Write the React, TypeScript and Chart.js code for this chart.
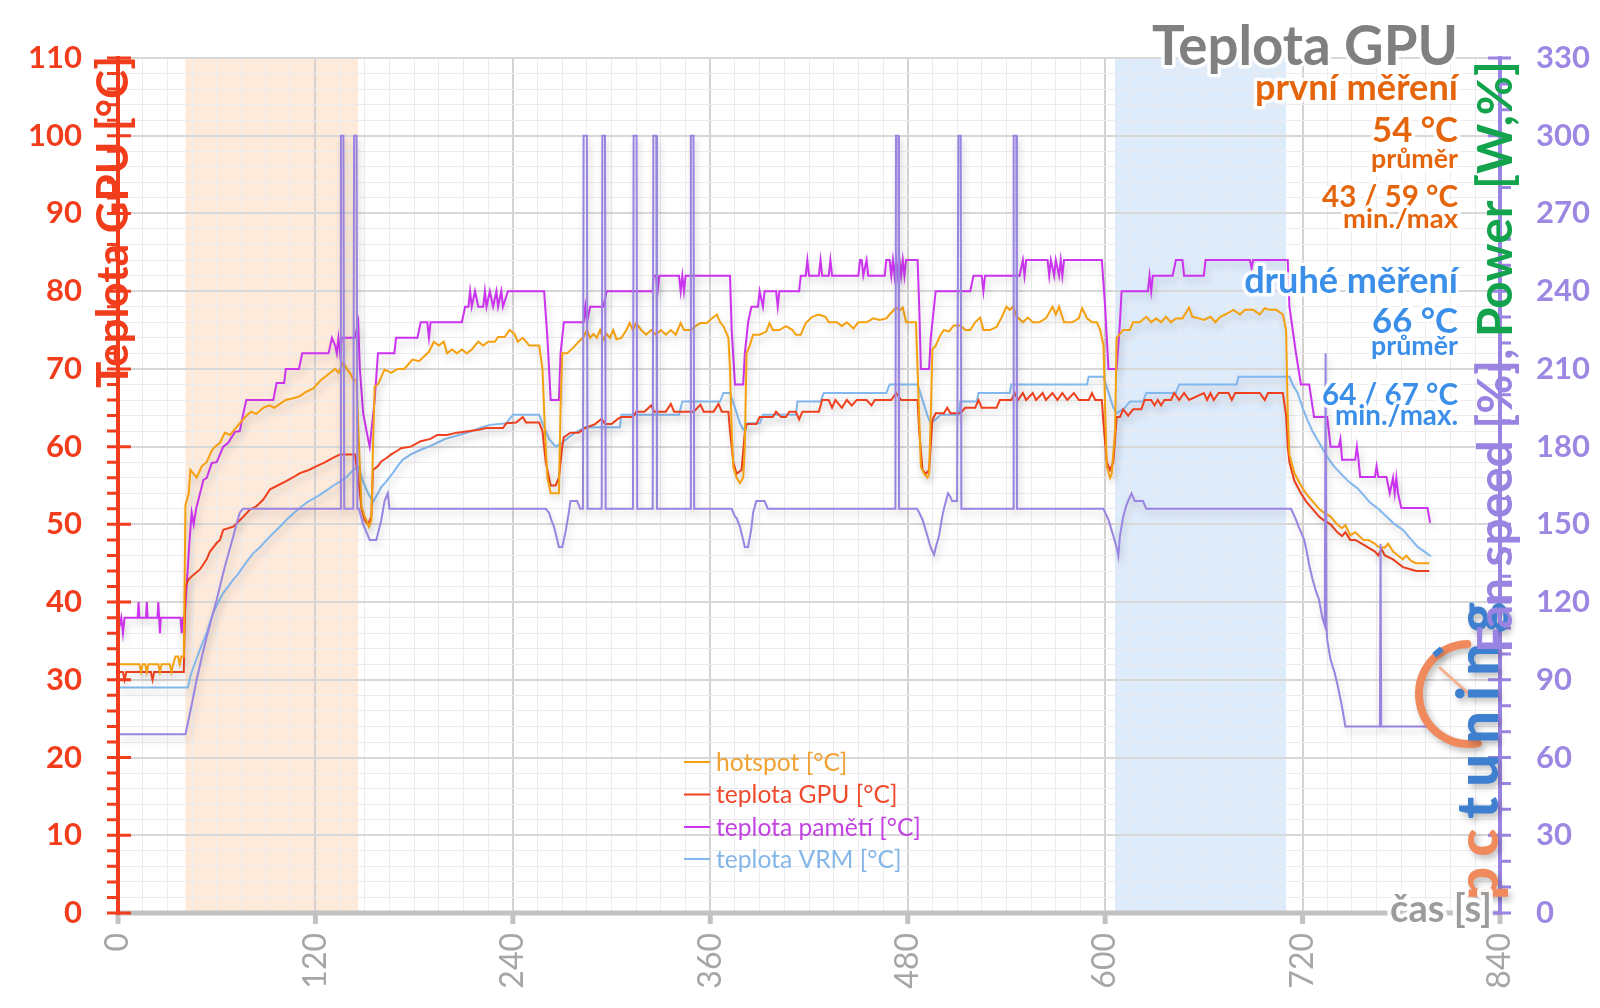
import { useEffect, useRef } from 'react';
import { Chart, registerables } from 'chart.js';

Chart.register(...registerables);

const FONT = 'Lato, "Open Sans", sans-serif';

// ---------------- data ----------------
const chartTitle = 'Teplota GPU';
const xAxisTitle = 'čas [s]';
const leftAxisTitle = 'Teplota GPU [°C]';
const rightAxisTitleA = 'Fan speed [%], ';
const rightAxisTitleB = 'Power [W,%]';
const seriesNames = ['hotspot [°C]', 'teplota GPU [°C]', 'teplota pamětí [°C]', 'teplota VRM [°C]'];
const firstRun = ['první měření', '54 °C', 'průměr', '43 / 59 °C', 'min./max'];
const secondRun = ['druhé měření', '66 °C', 'průměr', '64 / 67 °C', 'min./max.'];
const logoParts = ['pc', 'tuning'];
const bandFirst = [41, 146];
const bandSecond = [606, 710];
const xMajorTicks = [0, 120, 240, 360, 480, 600, 720, 840];

const hotspot: number[][] = [
  [0, 32], [13, 32], [14, 31], [15, 32], [16.5, 32], [17.5, 31], [18.5, 32], [24.5, 32], [25.5, 31], [26.5, 32],
  [31.5, 32], [32.5, 31], [33.5, 32], [35, 33], [36.5, 33], [37.5, 32], [38.5, 33], [40, 33], [41, 52.5], [43, 54],
  [44, 57], [47.8, 56], [51, 57.5], [53.9, 58], [57, 59.5], [59, 60], [62, 60.5], [65, 61.8], [68, 61.5], [70, 62],
  [72, 62.5], [74, 63], [76, 63.5], [78.2, 64], [81, 64.5], [84, 64.2], [88.3, 65], [92, 65.3], [95, 65], [98.4, 65.5],
  [102, 66], [106, 66.2], [110.6, 66.5], [114, 67], [118.7, 67.5], [123, 68.5], [126, 69], [129, 69.5], [132, 70], [134, 69.5],
  [137, 70.8], [139, 70], [141, 69.5], [143, 68.6], [145, 68.5], [146.5, 60], [148, 52.3], [150, 51], [152.5, 49.7], [154, 50.5],
  [155, 60], [156, 67.7], [158, 68], [162, 69.9], [166, 69.5], [170, 70], [174, 70], [179, 71.2], [183, 71], [189, 72.2],
  [192, 73.5], [195, 73], [198, 73.5], [200, 72], [203, 72.5], [206, 72], [209, 72.5], [212, 72], [215, 72.5], [219, 73.5],
  [222, 73], [225, 73.5], [229, 73.5], [231, 74.1], [235, 74.1], [238, 75], [241, 74.5], [243, 73.5], [246, 74], [248, 73.5],
  [250, 73], [256, 73], [258, 70], [259.5, 62], [261, 56], [263, 54], [266, 54], [268, 54], [269, 65], [270, 72],
  [273, 72], [277, 72.8], [280, 73.5], [283, 74.1], [285, 75], [287, 74], [289, 74.5], [291, 74], [293, 75], [295, 73.8],
  [297, 74.5], [299, 74], [301, 75], [303, 73.8], [306, 74], [309, 75], [311, 75.9], [313, 75], [315, 75.9], [318, 75],
  [321, 74.4], [324, 75], [327, 74.4], [330, 75], [333, 74.4], [336, 75], [339, 74.4], [342, 75.9], [344, 75], [348, 75],
  [351, 75.5], [354, 75.9], [358, 75.9], [361, 76.5], [364, 77], [366, 76], [368, 75.5], [371, 74], [372, 70], [373, 62],
  [374, 57.4], [376, 56], [378, 55.3], [380, 56], [381, 60], [382, 72], [384, 73], [386, 74.4], [390, 74.4], [394, 74.8],
  [396, 75.9], [398, 75], [402, 75], [406, 75.5], [410, 75], [412, 74.4], [415, 74.4], [418, 75.9], [420, 76.3], [422, 76.7],
  [426, 77], [430, 76.7], [432, 76], [437, 76], [440, 75.5], [443, 76], [447, 75.2], [450, 76], [455, 76], [459, 76.5],
  [463, 76.3], [467, 76.5], [469, 77], [473, 77.9], [475, 77.5], [477, 77.9], [479, 76], [482, 76], [485, 76], [486, 70],
  [488, 57.4], [490, 56.5], [492, 56], [493, 56.5], [494, 64], [495, 72.5], [497, 73], [500, 74.4], [502, 75], [505, 74.8],
  [508, 75.6], [512, 75.6], [515, 75], [518, 75], [521, 76], [524, 76.6], [526, 75], [530, 75], [534, 75.4], [537, 76.6],
  [540, 78], [542, 77.6], [544, 78], [546, 76.8], [550, 76], [553, 76.6], [556, 76], [560, 76], [564, 76.5], [568, 78],
  [570, 77], [572, 78], [575, 76], [580, 76], [584, 76.5], [586, 77.8], [589, 76.5], [592, 76], [595, 76], [597, 75],
  [599, 73], [600, 65], [601, 57.4], [603, 56], [604, 56.5], [606, 62], [607, 74], [609, 74.5], [611, 75], [615, 75],
  [617, 76], [621, 76], [625, 76.7], [628, 76], [631, 76.5], [634, 76], [637, 76.7], [640, 76], [643, 76.5], [647, 76.5],
  [651, 77.9], [653, 76.7], [657, 76.5], [660, 76.3], [664, 76.7], [667, 76], [670, 76.7], [673, 77], [678, 77.6], [682, 77],
  [685, 77.6], [690, 77.6], [694, 77], [697, 77.8], [700, 77.6], [704, 77.6], [708, 77], [710, 75], [711, 64], [712, 59],
  [715, 56.6], [719, 55], [722, 54], [726, 53], [730, 52], [733, 51.5], [737, 51], [741, 50], [744, 49.5], [746, 49.9],
  [749, 48.6], [752, 49], [754, 48.6], [757, 48], [760, 48], [764, 47.5], [766, 47.1], [770, 47], [772, 47.5], [775, 46.5],
  [778, 46], [781, 45.5], [783, 46], [786, 45.3], [789, 45], [793, 45], [797, 45],
];

const gpuTemp: number[][] = [
  [0, 31], [3, 31], [4, 30], [5, 31], [20, 31], [21, 30], [22, 31], [40, 31], [41, 42], [42.8, 42.9],
  [45.8, 43.5], [49.8, 44.2], [53.9, 45.5], [55.9, 46.5], [60, 47.6], [62, 48], [64, 49.3], [70, 49.7], [73, 50.3], [76.2, 51],
  [80.2, 51.9], [84, 52.3], [88.3, 53.2], [92.4, 54.5], [97, 55], [102.5, 55.6], [106, 56], [110.6, 56.6], [116, 57], [120.8, 57.5],
  [126, 58], [130.9, 58.6], [135, 59], [144, 59], [146, 56], [148, 52],
  [150, 50.5], [152, 50], [154, 51], [155, 57], [158, 57.5], [160, 58.1], [163, 58.5], [166, 59], [170, 59.5], [172, 59.8],
  [178, 60], [184, 60.7], [190, 61], [194, 61.5], [200, 61.5], [206, 61.8], [214, 62], [220, 62.2], [224, 62.4], [234, 62.4],
  [236, 63], [242, 63.1], [246, 63.8], [248, 63.1], [256, 63.1], [258, 62], [260, 58], [263, 55], [266, 55], [268, 56],
  [270, 60], [271, 61.2], [275, 61.8], [280, 61.8], [284, 62.4], [290, 62.9], [294, 63.6], [296, 62.9], [300, 62.9], [304, 63.6],
  [306, 63.8], [313, 63.8], [315, 64.5], [320, 64.5], [324, 65.3], [326, 64.5], [333, 64.5], [336, 65.5], [338, 64.5], [350, 64.5],
  [354, 65.4], [356, 64.5], [362, 64.5], [365, 65.5], [367, 64.5], [371, 64.5], [372, 62], [374, 58], [376, 56.5], [379, 57],
  [381, 61.8], [382, 62.9], [388, 62.9], [390, 63.8], [398, 63.8], [400, 64.5], [403, 63.8], [406, 63.8], [408, 64.5], [412, 64.5],
  [414, 63.5], [416, 64.5], [426, 64.5], [428, 66], [432, 66], [434, 65], [436, 66], [440, 65], [443, 66], [446, 65.3],
  [449, 66], [455, 66], [458, 65.3], [460, 66], [470, 66], [473, 66.9], [476, 66], [486, 66], [487, 62], [489, 57],
  [491, 56.5], [493, 57], [495, 63.4], [497, 64.3], [502, 64.3], [504, 65], [506, 64.3], [512, 64.3], [515, 65], [521, 65],
  [523, 66], [525, 65], [534, 65], [536, 66], [543, 66], [545, 66.9], [547, 66], [550, 66.9], [552, 66], [556, 66.9],
  [558, 66], [562, 66.9], [564, 66], [568, 66.9], [571, 66], [574, 66.9], [577, 66], [581, 66.9], [584, 66], [590, 66],
  [592, 66.9], [594, 66], [598, 66], [599, 63], [601, 58], [603, 57], [605, 58], [607, 63.8], [609, 63.8], [611, 64.8],
  [614, 64], [617, 64.8], [622, 64.8], [624, 66], [628, 66], [630, 65.3], [632, 66], [634, 65.3], [636, 66], [640, 66],
  [642, 66.9], [645, 66], [648, 66.9], [651, 66], [660, 66.9], [662, 66], [664, 66.9], [666, 66], [669, 66.9], [675, 66.9],
  [677, 66], [679, 66.9], [694, 66.9], [697, 66], [699, 66.9], [708, 66.9], [710, 64], [711, 60], [712, 58], [715, 55.6],
  [719, 54], [722, 53], [726, 52], [730, 51], [733, 50.5], [737, 50], [741, 49], [744, 48.5], [746, 49], [749, 48],
  [752, 48], [757, 47.4], [760, 47], [764, 46.5], [766, 46], [768, 46.8], [770, 46], [775, 45.5], [778, 45], [781, 44.5],
  [786, 44.2], [789, 44], [797, 44],
];

const memTemp: number[][] = [
  [0, 36], [2, 38], [3, 36], [4, 38], [12, 38], [12.5, 40], [13, 38], [17, 38], [17.5, 40], [18, 38],
  [24, 38], [24.5, 40], [25, 38], [25.5, 36], [26, 38], [38, 38], [38.7, 36], [39.5, 38], [40.5, 38], [42, 43],
  [43.5, 48], [44.8, 51.5], [46, 50], [47.5, 52], [51.9, 55.7], [54, 56], [57, 57.9], [60, 58], [64, 60], [67, 60.5],
  [71.1, 61.9], [74, 62], [76.2, 64.3], [78, 66], [94.4, 66], [96.4, 68.2], [101, 68.2], [102, 70], [110, 70], [112, 72],
  [128, 72], [130, 74], [132, 73], [133, 72], [134, 74], [135, 72], [136, 74], [144, 74], [146, 76], [147, 70],
  [149, 64.3], [152, 61], [153, 60], [156, 66], [158, 72], [168, 72], [169, 74], [182, 74], [184, 76], [188, 76],
  [189, 74], [190, 76], [209, 76], [211, 78], [213, 78], [214, 80], [215, 78], [217, 80], [219, 78], [222, 78],
  [223, 80], [224, 78], [226, 80], [228, 78], [230, 80], [231, 78], [233, 80], [234, 78], [237, 80], [259, 80],
  [261, 74], [263, 66], [268, 66], [269, 72], [271, 76], [283, 76], [284, 78], [285, 76], [287, 78], [295, 78],
  [297, 80], [325, 80], [325.5, 82], [327, 82], [328, 80], [329, 82], [341, 82], [342, 80], [343, 82], [344, 80],
  [345, 82], [372, 82], [373, 75], [375, 68], [380, 68], [381, 72], [383, 76], [385, 78], [389, 78], [390, 80],
  [392, 78], [393, 80], [400, 80], [401, 78], [402, 80], [414, 80], [415, 82], [418, 82], [419, 84], [420, 82],
  [426, 82], [427, 84], [428, 82], [432, 82], [433, 84], [434, 82], [450, 82], [451, 84], [452, 84], [453, 82],
  [455, 84], [456, 82], [466, 82], [467, 84], [469, 84], [470, 82], [471, 84], [472, 82], [473, 84], [474, 82],
  [475, 84], [476, 82], [477, 84], [478, 82], [479, 84], [486, 84], [487, 78], [488, 70], [493, 70], [494, 74],
  [497, 80], [518, 80], [520, 82], [525, 82], [526, 80], [527, 82], [548, 82], [550, 84], [551, 82], [552, 84],
  [565, 84], [566, 82], [567, 84], [569, 82], [570, 84], [572, 82], [573, 84], [574, 82], [575, 84], [598, 84],
  [600, 78], [602, 70], [607, 70], [609, 76], [610, 80], [626, 80], [627, 82], [628, 80], [629, 82], [641, 82],
  [643, 84], [647, 84], [648, 82], [660, 82], [661, 84], [688, 84], [689, 83], [690, 84], [711, 84], [712, 78],
  [716, 72], [719, 68], [724, 68], [727, 63.8], [735, 63.8], [737, 60], [742, 60], [743, 61], [744, 58.3], [752, 58.3],
  [753, 60], [754, 58.3], [755, 56.1], [764, 56.1], [765, 57.5], [766, 56.1], [771, 56.1], [773, 54], [775, 56], [776, 54],
  [777, 56], [778, 54], [780, 52.1], [796, 52.1], [797.5, 50.2],
];

const vrmTemp: number[][] = [
  [0, 29], [42.5, 29], [44, 30.5], [46.8, 32.2], [50, 34], [53.9, 36], [56, 37.5], [57.9, 38.6], [61, 40], [64, 41.2],
  [67, 42], [70, 42.9], [73, 43.6], [76.2, 44.6], [79, 45.4], [82.3, 46.3], [86, 47], [90.4, 48], [94, 48.8], [98.4, 49.7],
  [102, 50.5], [106.5, 51.4], [110, 52], [114.6, 52.8], [118, 53.2], [122.7, 53.8], [127, 54.4], [130.9, 55], [135, 55.5], [139, 56.1],
  [143, 57], [146, 57.4], [149, 55.5], [152, 54], [155, 52.9], [158, 54],
  [160, 54.8], [163, 55.5], [167, 56.6], [170, 57.5], [173, 58.3], [178, 59], [184, 59.6], [189, 60], [194, 60.5], [199, 61],
  [204, 61.3], [209, 61.6], [214, 61.9], [220, 62.4], [226, 62.8], [236, 63], [240, 64.1], [256, 64.1], [258, 63], [262, 61],
  [266, 60], [270, 60.5], [274, 61.2], [278, 61.8], [284, 62.5], [305, 62.5], [306, 64.1], [341, 64.1], [343, 65.8], [366, 65.8],
  [368, 66.9], [372, 66.9], [375, 65], [378, 63], [380, 62.2], [383, 63], [390, 63], [392, 64.1], [412, 64.1], [413, 65.8],
  [427, 65.8], [429, 66.9], [467, 66.9], [469, 68], [486, 68], [489, 66], [492, 64], [494, 63], [497, 63.5], [500, 64.1],
  [511, 64.1], [512, 65.8], [522, 65.8], [523, 66.9], [542, 66.9], [543, 68], [589, 68], [590, 69], [599, 69], [602, 67],
  [605, 65], [607, 64.3], [612, 65], [615, 65.8], [623, 65.8], [625, 66.9], [643, 66.9], [645, 68], [680, 68], [681, 69],
  [712, 69], [714, 68], [717, 66.9], [720, 65], [723, 63.4], [726, 62], [729, 60.9], [732, 59.8], [735, 58.7], [739, 57.5],
  [743, 56.6], [748, 55.5], [753, 54.7], [757, 53.8], [761, 52.8], [766, 52], [771, 51], [776, 50], [781, 49.3], [785, 48.3],
  [790, 47.1], [794, 46.5], [798, 45.9],
];

const fanSpeed: number[][] = [
  [0, 23], [41, 23], [42, 24], [45, 27], [47.8, 30], [51, 33], [53.9, 35.5], [57, 38], [60, 40.3], [62.5, 42.5],
  [65, 44.6], [67.5, 46.5], [70, 48.4], [72, 50], [74, 51.5], [76, 52], [135, 52], [135.5, 100], [137, 100], [137.5, 52],
  [143, 52], [143.5, 100], [145, 100], [145.5, 52], [146.5, 52], [149, 50], [151, 49], [153, 48], [157, 48], [160, 50.5],
  [162, 53], [164, 54], [165, 52], [260, 52], [262, 51.5], [263, 50.8], [265, 49.7], [267, 48], [268, 47.1], [270, 47.1],
  [272, 49], [274, 51.5], [275, 53], [279, 53], [281, 52], [282.6, 52], [283, 100], [285, 100], [285.4, 52], [294, 52],
  [294.4, 100], [296, 100], [296.4, 52], [313, 52], [313.4, 100], [315.2, 100], [315.6, 52], [325, 52], [325.4, 100], [327.2, 100],
  [327.6, 52], [347.8, 52], [348.2, 100], [349.8, 100], [350.2, 52], [373, 52], [375, 51], [376, 50.8], [378, 49.7], [380, 48],
  [381, 47.1], [383, 47.1], [385, 49.5], [386, 51.5], [388, 53], [393, 53], [395, 52], [472.5, 52], [472.9, 100], [474.3, 100],
  [474.7, 52], [485.7, 52], [487, 51.5], [489, 50.6], [492, 48.5], [494, 47], [496, 46.1], [497, 47], [499, 48.5], [501, 51],
  [502, 52], [504.5, 54], [506, 53.5], [507, 53], [510, 53], [510.8, 100], [512.2, 100], [512.6, 52], [544, 52], [544.4, 100],
  [546, 100], [546.4, 52], [599, 52], [600, 51.5], [602, 50.6], [605, 48.5], [607, 47], [608, 45.9], [609, 48.5], [611, 51],
  [613, 52.5], [616, 54], [618, 53], [623, 53], [625, 52], [713, 52], [716, 50.6], [718, 49.5], [721, 48], [723, 46],
  [724, 44.8], [726, 43], [728, 41.5], [730, 40.3], [732, 38], [733.5, 37], [734, 72], [734.5, 37], [735, 35.1], [737, 32.6],
  [739.5, 30.9], [741.5, 29.1], [744, 26.5], [746, 24], [767, 24], [767.4, 47.5], [767.8, 24], [799, 24],
];

// ---------------- styles ----------------
const C_HOT = '#f5a00f';
const C_GPU = '#f0401e';
const C_MEM = '#cc33ee';
const C_VRM = '#82b8ee';
const C_FAN = '#9a84e2';
const C_RED = '#f23d1c';
const C_ORANGE = '#e5650c';
const C_BLUE = '#3b8fe8';
const C_GRAY = '#808080';

function toPts(arr: number[][]) {
  return arr.map((p) => ({ x: p[0], y: p[1] }));
}

function fitSize(ctx: CanvasRenderingContext2D, text: string, width: number, weight: string) {
  ctx.font = `${weight} 100px ${FONT}`;
  const w = ctx.measureText(text).width;
  return (100 * width) / w;
}

function halo(ctx: CanvasRenderingContext2D, text: string, x: number, y: number, color: string, lw = 7) {
  ctx.lineJoin = 'round';
  ctx.strokeStyle = 'rgba(255,255,255,0.92)';
  ctx.lineWidth = lw;
  ctx.strokeText(text, x, y);
  ctx.fillStyle = color;
  ctx.fillText(text, x, y);
}

const deco = {
  id: 'deco',
  beforeDraw(chart: any) {
    const { ctx, chartArea: a, scales } = chart;
    const x = scales.x;
    ctx.save();
    ctx.fillStyle = '#ffffff';
    ctx.fillRect(0, 0, chart.width, chart.height);
    const x1 = x.getPixelForValue(bandFirst[0]);
    const x2 = x.getPixelForValue(bandFirst[1]);
    ctx.fillStyle = '#fdeadb';
    ctx.fillRect(x1, a.top, x2 - x1, a.bottom - a.top);
    const x3 = x.getPixelForValue(bandSecond[0]);
    const x4 = x.getPixelForValue(bandSecond[1]);
    ctx.fillStyle = '#deebfb';
    ctx.fillRect(x3, a.top, x4 - x3, a.bottom - a.top);
    ctx.restore();
  },
  beforeDatasetDraw(chart: any) {
    const ctx = chart.ctx;
    ctx.save();
    ctx.shadowColor = 'rgba(60,60,60,0.22)';
    ctx.shadowBlur = 7;
    ctx.shadowOffsetX = 2;
    ctx.shadowOffsetY = 5;
  },
  afterDatasetDraw(chart: any) {
    chart.ctx.restore();
  },
  afterDatasetsDraw(chart: any) {
    const { ctx, chartArea: a, scales } = chart;
    const x = scales.x, y = scales.y, y2 = scales.y2;
    ctx.save();
    ctx.strokeStyle = '#c2c2c2';
    ctx.lineWidth = 5;
    ctx.beginPath();
    ctx.moveTo(a.left, a.bottom);
    ctx.lineTo(a.right, a.bottom);
    ctx.stroke();
    ctx.beginPath();
    for (const t of xMajorTicks) {
      const px = x.getPixelForValue(t);
      ctx.moveTo(px, a.bottom);
      ctx.lineTo(px, a.bottom + 11);
    }
    ctx.stroke();
    ctx.strokeStyle = C_RED;
    ctx.lineWidth = 4;
    ctx.beginPath();
    ctx.moveTo(a.left, a.top - 2);
    ctx.lineTo(a.left, a.bottom + 2);
    ctx.stroke();
    ctx.lineWidth = 3;
    ctx.beginPath();
    for (let v = 0; v <= 110; v += 2) {
      const py = y.getPixelForValue(v);
      const major = v % 10 === 0;
      ctx.moveTo(a.left - 11, py);
      ctx.lineTo(major ? a.left + 13 : a.left + 2, py);
    }
    ctx.stroke();
    ctx.strokeStyle = C_FAN;
    ctx.lineWidth = 4;
    ctx.beginPath();
    ctx.moveTo(a.right, a.top - 2);
    ctx.lineTo(a.right, a.bottom + 2);
    ctx.stroke();
    ctx.lineWidth = 3;
    ctx.beginPath();
    for (let v = 0; v <= 330; v += 10) {
      const py = y2.getPixelForValue(v);
      const major = v % 30 === 0;
      ctx.moveTo(major ? a.right - 12 : a.right - 1, py);
      ctx.lineTo(a.right + 11, py);
    }
    ctx.stroke();
    ctx.restore();
  },
  afterDraw(chart: any) {
    const { ctx } = chart;
    ctx.save();

    // logo
    ctx.save();
    ctx.shadowColor = 'rgba(0,0,0,0.25)';
    ctx.shadowBlur = 6;
    ctx.shadowOffsetX = 3;
    ctx.shadowOffsetY = 4;
    ctx.strokeStyle = '#f08a5c';
    ctx.lineWidth = 8;
    ctx.lineCap = 'round';
    ctx.beginPath();
    ctx.arc(1469, 694, 50, (80 * Math.PI) / 180, (268 * Math.PI) / 180);
    ctx.stroke();
    ctx.lineWidth = 3;
    ctx.strokeStyle = '#f5b08e';
    ctx.beginPath();
    ctx.moveTo(1469, 694);
    ctx.lineTo(1440, 668);
    ctx.stroke();
    ctx.fillStyle = '#3f7fcf';
    ctx.save();
    ctx.translate(1438, 652);
    ctx.rotate(-0.7);
    ctx.fillRect(-5, -3, 10, 6);
    ctx.restore();
    ctx.translate(1498, 900);
    ctx.rotate(-Math.PI / 2);
    ctx.font = `900 58px ${FONT}`;
    ctx.textAlign = 'left';
    ctx.textBaseline = 'alphabetic';
    const chars: { ch: string; col: string }[] = [];
    for (const ch of logoParts[0]) chars.push({ ch, col: '#f08a5c' });
    for (const ch of logoParts[1]) chars.push({ ch, col: '#3f7fcf' });
    let sum = 0;
    for (const c of chars) sum += ctx.measureText(c.ch).width;
    const gap = Math.max(0, (298 - sum) / (chars.length - 1));
    let px = 0;
    for (const c of chars) {
      ctx.fillStyle = c.col;
      ctx.fillText(c.ch, px, 0);
      px += ctx.measureText(c.ch).width + gap;
    }
    ctx.restore();

    // chart title and run annotations
    ctx.textAlign = 'right';
    ctx.textBaseline = 'alphabetic';
    const rows = [
      { t: chartTitle, b: 65, w: 306, c: C_GRAY },
      { t: firstRun[0], b: 100, w: 203, c: C_ORANGE },
      { t: firstRun[1], b: 142, w: 86, c: C_ORANGE },
      { t: firstRun[2], b: 168, w: 87, c: C_ORANGE },
      { t: firstRun[3], b: 207, w: 136, c: C_ORANGE },
      { t: firstRun[4], b: 228, w: 115, c: C_ORANGE },
      { t: secondRun[0], b: 293, w: 214, c: C_BLUE },
      { t: secondRun[1], b: 333, w: 86, c: C_BLUE },
      { t: secondRun[2], b: 355, w: 87, c: C_BLUE },
      { t: secondRun[3], b: 405, w: 136, c: C_BLUE },
      { t: secondRun[4], b: 425, w: 123, c: C_BLUE },
    ];
    for (const r of rows) {
      const s = fitSize(ctx, r.t, r.w, 'bold');
      ctx.font = `bold ${s}px ${FONT}`;
      halo(ctx, r.t, 1458, r.b, r.c, 7);
    }

    // left axis title
    ctx.save();
    ctx.translate(128, 222);
    ctx.rotate(-Math.PI / 2);
    ctx.textAlign = 'center';
    const ls = fitSize(ctx, leftAxisTitle, 332, 'bold');
    ctx.font = `bold ${ls}px ${FONT}`;
    ctx.fillStyle = C_RED;
    ctx.fillText(leftAxisTitle, 0, 0);
    ctx.restore();

    // right axis title
    ctx.save();
    ctx.translate(1512, 357);
    ctx.rotate(-Math.PI / 2);
    ctx.textAlign = 'left';
    const rs = fitSize(ctx, rightAxisTitleA + rightAxisTitleB, 592, 'bold');
    ctx.font = `bold ${rs}px ${FONT}`;
    const wa = ctx.measureText(rightAxisTitleA).width;
    const wb = ctx.measureText(rightAxisTitleB).width;
    const start = -(wa + wb) / 2;
    ctx.fillStyle = C_FAN;
    ctx.fillText(rightAxisTitleA, start, 0);
    ctx.fillStyle = '#12a34c';
    ctx.fillText(rightAxisTitleB, start + wa, 0);
    ctx.restore();

    // x axis title
    ctx.textAlign = 'right';
    const xs = fitSize(ctx, xAxisTitle, 102, 'bold');
    ctx.font = `bold ${xs}px ${FONT}`;
    halo(ctx, xAxisTitle, 1492, 922, '#9c9c9c', 8);

    // legend
    const colors = [C_HOT, C_GPU, C_MEM, C_VRM];
    const txtColors = ['#f0a232', '#f04a2e', '#c342e2', '#86b6e8'];
    const lsz = fitSize(ctx, seriesNames[2], 205, 'normal');
    ctx.font = `normal ${lsz}px ${FONT}`;
    ctx.textAlign = 'left';
    ctx.textBaseline = 'middle';
    const rowsY = [762, 794.5, 827, 859];
    for (let i = 0; i < 4; i++) {
      const yy = rowsY[i];
      ctx.strokeStyle = colors[i];
      ctx.lineWidth = 2;
      ctx.beginPath();
      ctx.moveTo(684, yy);
      ctx.lineTo(710, yy);
      ctx.stroke();
      ctx.fillStyle = txtColors[i];
      ctx.fillText(seriesNames[i], 716, yy + 1);
    }
    ctx.restore();
  },
};

export default function App() {
  const ref = useRef<HTMLCanvasElement | null>(null);
  useEffect(() => {
    if (!ref.current) return;
    const mk = (label: string, arr: number[][], color: string, axis: string) => ({
      label,
      data: toPts(arr),
      borderColor: color,
      backgroundColor: color,
      borderWidth: 2,
      pointRadius: 0,
      tension: 0,
      yAxisID: axis,
    });
    const chart = new Chart(ref.current, {
      type: 'line',
      data: {
        datasets: [
          mk('fan', fanSpeed, C_FAN, 'y'),
          mk(seriesNames[0], hotspot, C_HOT, 'y'),
          mk(seriesNames[1], gpuTemp, C_GPU, 'y'),
          mk(seriesNames[2], memTemp, C_MEM, 'y'),
          mk(seriesNames[3], vrmTemp, C_VRM, 'y'),
        ] as any,
      },
      options: {
        animation: false,
        responsive: false,
        devicePixelRatio: 1,
        layout: { padding: { top: 58, left: 0, right: 0, bottom: 0 } },
        plugins: { legend: { display: false }, tooltip: { enabled: false } },
        scales: {
          x: {
            type: 'linear',
            min: 0,
            max: 840,
            border: { display: false },
            grid: {
              drawTicks: false,
              color: (c: any) => (c.tick && c.tick.value % 120 === 0 ? '#d6d2d2' : '#ebebf0'),
              lineWidth: (c: any) => (c.tick && c.tick.value % 120 === 0 ? 2 : 1),
            },
            ticks: {
              stepSize: 15,
              autoSkip: false,
              minRotation: 90,
              maxRotation: 90,
              padding: 20,
              color: '#a6a6a6',
              font: { family: FONT, size: 32 },
              callback: (v: any) => (Number(v) % 120 === 0 ? String(v) : ''),
            },
            afterFit: (s: any) => {
              s.height = 95;
            },
          },
          y: {
            position: 'left',
            min: 0,
            max: 110,
            border: { display: false },
            grid: {
              drawTicks: false,
              color: (c: any) => (c.tick && c.tick.value % 10 === 0 ? '#d8d8d8' : '#ebebf0'),
              lineWidth: (c: any) => (c.tick && c.tick.value % 10 === 0 ? 2 : 1),
            },
            ticks: {
              stepSize: 2,
              autoSkip: false,
              padding: 36,
              color: C_RED,
              font: { family: FONT, size: 31, weight: 'bold' },
              callback: (v: any) => (Number(v) % 10 === 0 ? String(v) : ''),
            },
            afterFit: (s: any) => {
              s.width = 118;
            },
          },
          y2: {
            position: 'right',
            min: 0,
            max: 330,
            border: { display: false },
            grid: { drawOnChartArea: false, drawTicks: false },
            ticks: {
              stepSize: 10,
              autoSkip: false,
              padding: 36,
              color: '#9c88e2',
              font: { family: FONT, size: 31, weight: 'bold' },
              callback: (v: any) => (Number(v) % 30 === 0 ? String(v) : ''),
            },
            afterFit: (s: any) => {
              s.width = 100;
            },
          },
        },
      } as any,
      plugins: [deco],
    });
    return () => chart.destroy();
  }, []);
  return (
    <div style={{ position: 'fixed', left: 0, top: 0, width: 1600, height: 1008, background: '#fff' }}>
      <canvas ref={ref} width={1600} height={1008} style={{ width: 1600, height: 1008, display: 'block' }} />
    </div>
  );
}
